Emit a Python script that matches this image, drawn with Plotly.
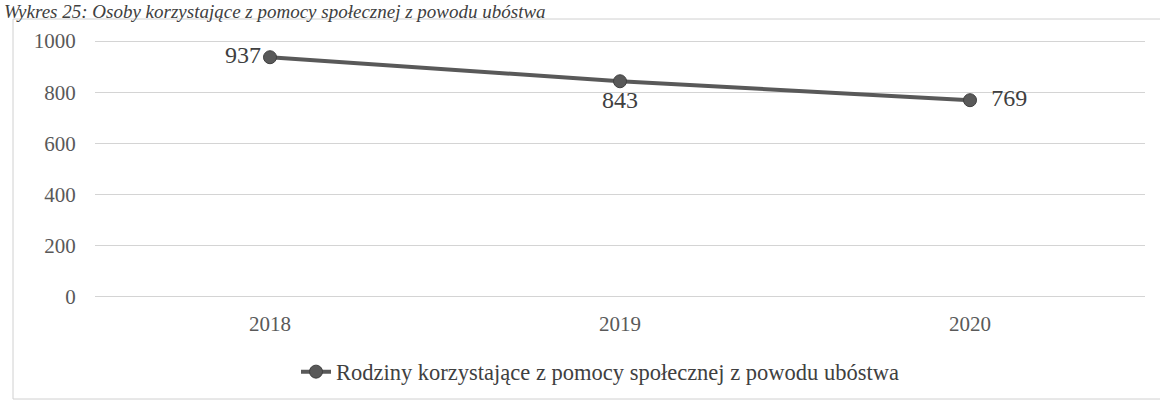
import plotly.graph_objects as go

years = ["2018", "2019", "2020"]
values = [937, 843, 769]
label_pos = ["middle left", "bottom center", "middle right"]
series_name = "Rodziny korzystające z pomocy społecznej z powodu ubóstwa"
title_text = "Wykres 25: Osoby korzystające z pomocy społecznej z powodu ubóstwa"
y_ticks = [0, 200, 400, 600, 800, 1000]

SERIF = "Liberation Serif, Times New Roman, serif"
W, H = 1160, 400
L, R, T, B = 95, 15, 36, 98
pw, ph = W - L - R, H - T - B

def px_x(px):
    return (px - L) / pw

def px_y(py):
    return (H - B - py) / ph

labels = []
for v, p in zip(values, label_pos):
    if p == "middle right":
        labels.append("  " + str(v))
    else:
        labels.append(str(v))

fig = go.Figure()
fig.add_trace(go.Scatter(
    x=years, y=values, mode="lines+markers+text",
    name=series_name,
    text=labels,
    textposition=label_pos,
    textfont=dict(family=SERIF, size=24, color="#404040"),
    line=dict(color="#595959", width=4),
    marker=dict(color="#595959", size=13, line=dict(color="#404040", width=1)),
))

fig.update_layout(
    width=W, height=H,
    margin=dict(l=L, r=R, t=T, b=B, autoexpand=False),
    paper_bgcolor="white", plot_bgcolor="white",
    font=dict(family=SERIF, size=21, color="#595959"),
    showlegend=True,
    legend=dict(orientation="h", x=px_x(600), xanchor="center",
                y=px_y(372), yanchor="middle",
                font=dict(family=SERIF, size=22.5, color="#404040"),
                itemwidth=30),
    xaxis=dict(type="category", range=[-0.5, 2.5], showgrid=False,
               showline=False, ticks="outside", ticklen=3, tickcolor="white",
               tickfont=dict(family=SERIF, size=21, color="#595959")),
    yaxis=dict(range=[-20, 1020], tickvals=y_ticks, showgrid=True,
               gridcolor="#d4d4d4", gridwidth=1, zeroline=False,
               showline=False, ticks="outside", ticklen=14, tickcolor="white",
               tickfont=dict(family=SERIF, size=21, color="#595959")),
    shapes=[dict(type="rect", xref="paper", yref="paper",
                 x0=px_x(13), x1=px_x(1162), y0=px_y(399), y1=px_y(19),
                 line=dict(color="#d0d0d0", width=1), fillcolor="rgba(0,0,0,0)",
                 layer="below")],
    annotations=[dict(text=title_text, xref="paper", yref="paper",
                      x=px_x(2), xanchor="left", y=px_y(-1), yanchor="top",
                      showarrow=False,
                      font=dict(family=SERIF, size=19, color="#404040",
                                style="italic"))],
)

fig.write_html("out.html", config={"displayModeBar": False},
               post_script="document.body.style.margin='0';document.body.style.padding='0';")
